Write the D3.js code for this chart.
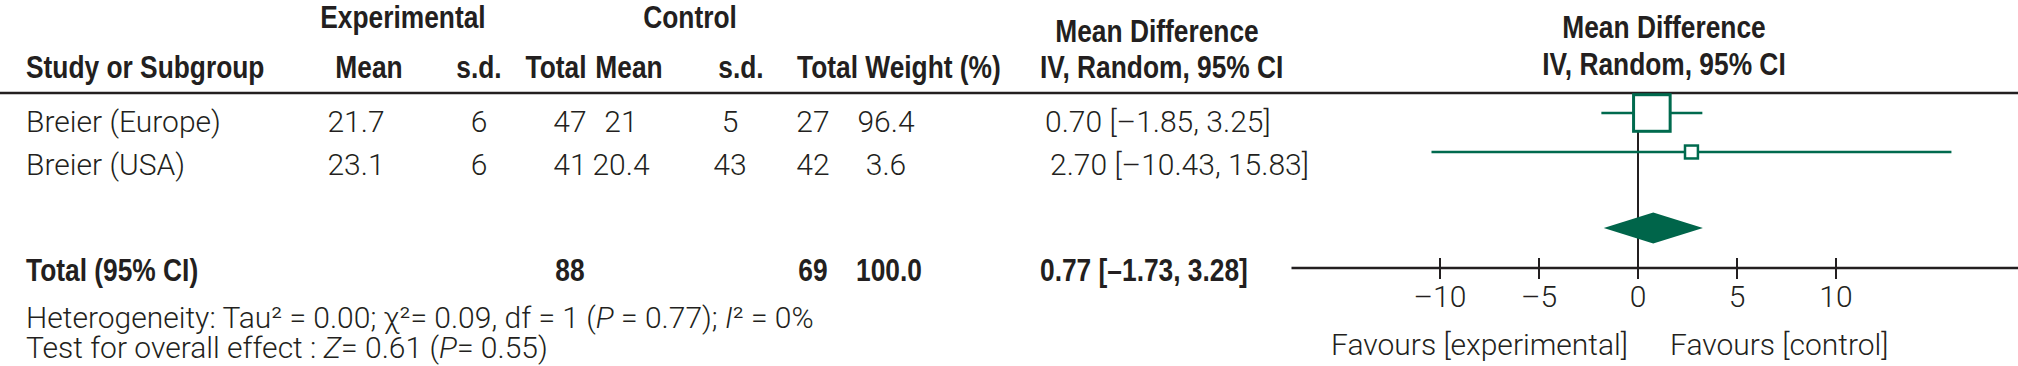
<!DOCTYPE html>
<html><head><meta charset="utf-8">
<script src="https://cdn.jsdelivr.net/npm/d3@7"></script>
<style>
html,body{margin:0;padding:0;background:#fff;}
.b{font-family:"Liberation Sans",Arial,sans-serif;font-weight:bold;font-size:31px;fill:#231f20;}
.r{font-family:Roboto,"Liberation Sans",sans-serif;font-weight:300;font-size:30px;fill:#231f20;}
</style></head>
<body>
<svg id="c" width="2018" height="366"></svg>
<script>
// ---- data ----
const studies   = ["Breier (Europe)", "Breier (USA)"];
const expMean   = [21.7, 23.1];
const expSd     = [6, 6];
const expN      = [47, 41];
const ctrlMean  = [21, 20.4];
const ctrlSd    = [5, 43];
const ctrlN     = [27, 42];
const weights   = [96.4, 3.6];
const md        = [0.70, 2.70];
const ciLow     = [-1.85, -10.43];
const ciHigh    = [3.25, 15.83];
const totalLabel = "Total (95% CI)";
const totalExpN  = 88;
const totalCtrlN = 69;
const totalWeight = 100.0;
const totalMd    = 0.77;
const totalLow   = -1.73;
const totalHigh  = 3.28;
const ticks      = [-10, -5, 0, 5, 10];
const axisExtent = [-17.5, 19.2];

const svg = d3.select("#c");
const green = "#006a4e", ink = "#231f20";
const x = d3.scaleLinear().domain([-10, 10]).range([1440, 1836]);
const boxSize = d3.scaleLinear().domain([0, 100]).range([12, 37.5]);
const fmt2 = v => (v < 0 ? "\u2013" : "") + Math.abs(v).toFixed(2);
const ciText = (m, l, h) => `${fmt2(m)} [${fmt2(l)}, ${fmt2(h)}]`;
const tickFmt = v => (v < 0 ? "\u2013" : "") + Math.abs(v);
const SX = 0.85; // horizontal condensing of the bold face

function txt(cls, xx, yy, s, anchor) {
  const el = svg.append("text").attr("class", cls)
    .attr("text-anchor", anchor || "start").text(s);
  if (cls === "b") el.attr("transform", `translate(${xx},${yy}) scale(${SX},1)`);
  else el.attr("x", xx).attr("y", yy);
  return el;
}

// ---- headers ----
txt("b", 403, 28, "Experimental", "middle");
txt("b", 690, 28, "Control", "middle");
txt("b", 1157, 42, "Mean Difference", "middle");
txt("b", 26, 78, "Study or Subgroup");
txt("b", 369, 78, "Mean", "middle");
txt("b", 479, 78, "s.d.", "middle");
txt("b", 556, 78, "Total", "middle");
txt("b", 629, 78, "Mean", "middle");
txt("b", 741, 78, "s.d.", "middle");
txt("b", 797, 78, "Total Weight (%)");
txt("b", 1040, 78, "IV, Random, 95% CI");
txt("b", 1664, 38, "Mean Difference", "middle");
txt("b", 1664, 75, "IV, Random, 95% CI", "middle");

svg.append("line").attr("x1", 0).attr("x2", 2018).attr("y1", 93).attr("y2", 93)
  .attr("stroke", ink).attr("stroke-width", 2.5);

// ---- study rows ----
const rowText = [132, 175];
const rowMark = [113, 152];
studies.forEach((s, i) => {
  const y = rowText[i];
  txt("r", 26, y, s);
  txt("r", 356, y, expMean[i], "middle");
  txt("r", 479, y, expSd[i], "middle");
  txt("r", 570, y, expN[i], "middle");
  txt("r", 621, y, ctrlMean[i], "middle");
  txt("r", 730, y, ctrlSd[i], "middle");
  txt("r", 813, y, ctrlN[i], "middle");
  txt("r", 886, y, weights[i].toFixed(1), "middle");
  txt("r", 1045 + i * 5, y, ciText(md[i], ciLow[i], ciHigh[i]));
});

// ---- total row ----
txt("b", 26, 281, totalLabel);
txt("b", 570, 281, totalExpN, "middle");
txt("b", 813, 281, totalCtrlN, "middle");
txt("b", 889, 281, totalWeight.toFixed(1), "middle");
txt("b", 1040, 281, ciText(totalMd, totalLow, totalHigh));

// heterogeneity
const h = svg.append("text").attr("class", "r").attr("x", 26).attr("y", 328);
h.append("tspan").text("Heterogeneity: Tau\u00b2 = 0.00; \u03c7\u00b2= 0.09, df = 1 (");
h.append("tspan").attr("font-style", "italic").text("P");
h.append("tspan").text(" = 0.77); ");
h.append("tspan").attr("font-style", "italic").text("I");
h.append("tspan").text("\u00b2 = 0%");
const t = svg.append("text").attr("class", "r").attr("x", 26).attr("y", 358);
t.append("tspan").text("Test for overall effect : ");
t.append("tspan").attr("font-style", "italic").text("Z");
t.append("tspan").text("= 0.61 (");
t.append("tspan").attr("font-style", "italic").text("P");
t.append("tspan").text("= 0.55)");

// ---- forest plot ----
const axisY = 268;
svg.append("line").attr("x1", x(0)).attr("x2", x(0)).attr("y1", 93).attr("y2", axisY + 11)
  .attr("stroke", ink).attr("stroke-width", 2);
studies.forEach((s, i) => {
  const y = rowMark[i];
  svg.append("line").attr("x1", x(ciLow[i])).attr("x2", x(ciHigh[i]))
    .attr("y1", y).attr("y2", y).attr("stroke", green).attr("stroke-width", 2.5);
  const sz = boxSize(weights[i]);
  svg.append("rect").attr("x", x(md[i]) - sz / 2).attr("y", y - sz / 2)
    .attr("width", sz).attr("height", sz).attr("fill", "#fff")
    .attr("stroke", green).attr("stroke-width", i === 0 ? 3 : 2.5);
});
const dy = 228, dh = 15.5;
svg.append("path").attr("d",
  `M${x(totalLow)},${dy} L${x(totalMd)},${dy - dh} L${x(totalHigh)},${dy} L${x(totalMd)},${dy + dh} Z`)
  .attr("fill", "#00654a");
svg.append("line").attr("x1", x(axisExtent[0])).attr("x2", x(axisExtent[1]))
  .attr("y1", axisY).attr("y2", axisY).attr("stroke", ink).attr("stroke-width", 2.5);
svg.selectAll(".tk").data(ticks).enter().append("line")
  .attr("x1", d => x(d)).attr("x2", d => x(d))
  .attr("y1", axisY - 10).attr("y2", axisY + 11)
  .attr("stroke", ink).attr("stroke-width", 2);
svg.selectAll(".tl").data(ticks).enter().append("text").attr("class", "r")
  .attr("x", d => x(d)).attr("y", 307).attr("text-anchor", "middle").text(tickFmt);
txt("r", 1628, 355, "Favours [experimental]", "end");
txt("r", 1670, 355, "Favours [control]");
</script>
</body></html>
